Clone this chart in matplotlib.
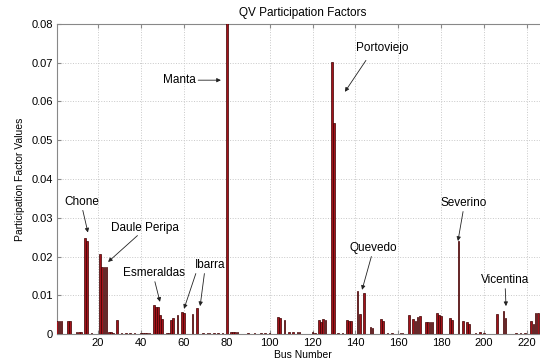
import matplotlib
matplotlib.use("Agg")
import matplotlib.pyplot as plt
import numpy as np

plt.rcParams['font.family'] = ['Liberation Sans', 'DejaVu Sans']

# Bus numbers with non-negligible participation factors
bus_numbers = [1, 2, 3, 6, 7, 10, 11, 12, 14, 15, 17, 21, 22, 23, 24, 25, 26, 27, 29,
               31, 33, 35, 37, 40, 41, 42, 43, 44, 46, 47, 48, 49, 50, 52, 53,
               54, 55, 57, 59, 60, 64, 66, 69, 71, 72, 74, 76, 78, 80, 82, 83, 84, 85,
               90, 93, 96, 98, 100, 104, 105, 107, 109, 111, 113, 114, 120, 121,
               123, 124, 125, 126, 129, 130, 132, 134, 136, 137, 138, 141, 142, 144,
               147, 148, 152, 153, 155, 157, 161, 162, 165, 167, 168, 169, 170,
               173, 174, 175, 176, 178, 179, 180, 184, 185, 188, 190, 192, 193,
               196, 198, 200, 206, 209, 210, 215, 217, 219, 222, 223, 224, 225]
pf_values = [0.0033, 0.0033, 0.0033, 0.0034, 0.0034, 0.0004, 0.0004, 0.0004, 0.0249, 0.0239, 0.0002,
             0.0206, 0.0172, 0.0172, 0.0172, 0.0005, 0.0005, 0.0003, 0.0037,
             0.0002, 0.0002, 0.0002, 0.0002, 0.0002, 0.0002, 0.0002, 0.0002, 0.0002,
             0.0076, 0.0069, 0.0069, 0.0050, 0.0040, 0.0002, 0.0002,
             0.0036, 0.0042, 0.0050, 0.0057, 0.0055, 0.0051, 0.0068,
             0.0003, 0.0002, 0.0003, 0.0002, 0.0002, 0.0003, 0.0900,
             0.0004, 0.0004, 0.0005, 0.0004,
             0.0002, 0.0002, 0.0002, 0.0003, 0.0003, 0.0043, 0.0041, 0.0037,
             0.0004, 0.0005, 0.0004, 0.0004, 0.0005, 0.0003,
             0.0035, 0.0030, 0.0040, 0.0035, 0.0703, 0.0544, 0.0002, 0.0002,
             0.0037, 0.0034, 0.0034, 0.0110, 0.0052, 0.0106,
             0.0017, 0.0016, 0.0040, 0.0033, 0.0002, 0.0002, 0.0003, 0.0003,
             0.0048, 0.0038, 0.0034, 0.0043, 0.0047,
             0.0030, 0.0030, 0.0030, 0.0030, 0.0054, 0.0050, 0.0047,
             0.0041, 0.0035, 0.0240, 0.0034, 0.0032, 0.0025,
             0.0003, 0.0004, 0.0003, 0.0051, 0.0059, 0.0042,
             0.0003, 0.0003, 0.0003, 0.0033, 0.0025, 0.0055, 0.0055]

x_ticks = [20, 40, 60, 80, 100, 120, 140, 160, 180, 200, 220]
y_ticks = [0, 0.01, 0.02, 0.03, 0.04, 0.05, 0.06, 0.07, 0.08]
y_tick_labels = ["0", "0.01", "0.02", "0.03", "0.04", "0.05", "0.06", "0.07", "0.08"]

# Annotations: (label, text position, arrow targets)
labels = ["Chone", "Daule Peripa", "Esmeraldas", "Ibarra", "Manta",
          "Portoviejo", "Quevedo", "Severino", "Vicentina"]
label_pos = [(12.5, 0.0341), (41.9, 0.0274), (46.1, 0.0157), (72.2, 0.0178), (65.7, 0.0655),
             (152.4, 0.0738), (148.2, 0.0222), (190.6, 0.0338), (209.8, 0.0139)]
arrow_targets = [[(15.3, 0.0262)], [(24.7, 0.0186)], [(48.9, 0.0083)],
                 [(60.1, 0.0065), (67.6, 0.0072)], [(77.3, 0.0655)],
                 [(135.1, 0.0625)], [(143.1, 0.0114)], [(187.8, 0.0240)], [(210.2, 0.0072)]]
label_ha = ["center", "center", "center", "center", "right", "center", "center", "center", "center"]

fig = plt.figure(figsize=(5.4, 3.58), dpi=100)
ax = fig.add_axes([0.106, 0.067, 0.9097, 0.866])

ax.bar(bus_numbers, pf_values, width=0.8, color="#a3121a", edgecolor="#3a0000", linewidth=0.5, zorder=3)

ax.set_xlim(1, 230)
ax.set_ylim(0, 0.08)
ax.set_xticks(x_ticks)
ax.set_yticks(y_ticks)
ax.set_yticklabels(y_tick_labels)
ax.tick_params(direction="in", top=True, right=True, labelsize=8, length=3, color="#888888")
ax.tick_params(axis="x", pad=3)
ax.tick_params(axis="y", pad=3)
ax.grid(True, linestyle=":", color="#c8c8c8", linewidth=0.7, zorder=0)
for s in ax.spines.values():
    s.set_color("#888888")

ax.set_title("QV Participation Factors", fontsize=8.5, pad=6)
ax.set_xlabel("Bus Number", fontsize=7.5)
ax.xaxis.set_label_coords(0.5, -0.05)
ax.set_ylabel("Participation Factor Values", fontsize=7.5, labelpad=5)

for lab, pos, ha in zip(labels, label_pos, label_ha):
    ax.text(pos[0], pos[1], lab, fontsize=8.5, ha=ha, va="center", zorder=5)
for lab, pos, targets in zip(labels, label_pos, arrow_targets):
    for t in targets:
        if lab == "Manta":
            start = (pos[0] + 1.0, pos[1])
        elif lab == "Daule Peripa":
            start = (pos[0] - 3.5, pos[1] - 0.0020)
        elif lab == "Portoviejo":
            start = (pos[0] - 7.5, pos[1] - 0.0032)
        elif lab == "Ibarra":
            start = (t[0] + (5.5 if t[0] < 65 else 2.0), pos[1] - 0.0022)
        else:
            start = (pos[0] + (t[0] - pos[0]) * 0.15, pos[1] - 0.0022)
        ax.annotate("", xy=t, xytext=start,
                    arrowprops=dict(arrowstyle="-|>", color="#222222", lw=0.6,
                                    mutation_scale=6, shrinkA=0, shrinkB=0), zorder=5)

fig.savefig("out.png", dpi=100)
